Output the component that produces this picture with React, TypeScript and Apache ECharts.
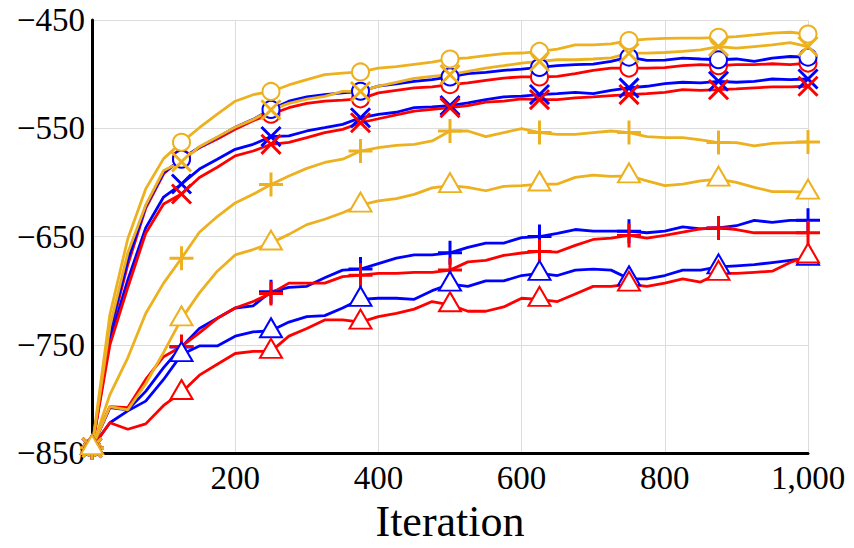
import React, { useEffect, useRef } from "react";
import * as echarts from "echarts";

// Iteration at which each sample was recorded
const iterations = [
  0, 25, 50, 75, 100, 125, 150, 175, 200, 225,
  250, 275, 300, 325, 350, 375, 400, 425, 450, 475,
  500, 525, 550, 575, 600, 625, 650, 675, 700, 725,
  750, 775, 800, 825, 850, 875, 900, 925, 950, 975,
  1000,
];

// Iterations that carry a marker
const markerIterations = [0, 125, 250, 375, 500, 625, 750, 875, 1000];

// Orange runs
const orangeCircle = [
  -845, -722, -652, -606, -578, -563, -549.5, -537, -525, -519,
  -516, -510, -505, -500.5, -499, -498, -494.5, -493, -491, -489,
  -486, -485, -483, -481, -480.5, -479, -477, -473, -473, -472,
  -469, -467.7, -467, -466.8, -466.8, -466, -465.3, -463.8, -462.2, -461.3,
  -463,
];
const orangeCross = [
  -845, -733, -665, -621, -589, -581, -567, -558, -549, -542,
  -533, -527, -523, -520.5, -516, -516, -511, -507.5, -504, -502,
  -500.5, -497.5, -494.4, -492.2, -489.8, -488.3, -486.7, -486.7, -486, -485,
  -480.6, -480.6, -480, -479, -477.5, -474.5, -476, -474.5, -473, -470.8,
  -474.5,
];
const orangePlus = [
  -845, -796, -762, -721, -693, -670, -646, -631.5, -619, -611,
  -602, -594, -587, -581.6, -578.6, -571, -567.8, -565.7, -564.8, -561.7,
  -552.5, -552.5, -557.7, -554, -550.4, -554, -555.6, -555.6, -554, -552.5,
  -554, -557.7, -558.6, -558.6, -560.8, -563.2, -563.2, -566.3, -563.9, -563.2,
  -562.6,
];
const orangeTriangle = [
  -845, -807, -810, -786, -757, -726, -702, -682, -667, -662,
  -656, -648, -639, -634, -628, -621, -617, -615, -611, -605,
  -603, -604.5, -607.7, -603.6, -603, -601.5, -601.5, -595.4, -593.3, -594.4,
  -594, -598.5, -603, -601.5, -598.5, -597, -600, -604.5, -608.5, -608.5,
  -609,
];

// Blue runs
const blueCircle = [
  -845, -737, -672, -622, -591, -578.6, -567.5, -558.6, -549, -541.8,
  -532.6, -525, -521, -519, -517.3, -515.8, -511, -509, -506.6, -505,
  -502.6, -499.6, -498.4, -496.5, -495.3, -493.8, -492.2, -491.3, -490.7, -488.3,
  -484.3, -487.3, -487, -485.2, -486, -486.7, -486, -488.3, -485.2, -483.7,
  -484.3,
];
const blueCross = [
  -845, -745, -690, -642, -613.5, -601.5, -587.7, -578.6, -569.4, -564.8,
  -557.7, -557, -552.5, -549.5, -546.4, -540.3, -537.2, -535.2, -531, -530.2,
  -529, -526.5, -523.5, -521, -520.4, -518.9, -518, -516.8, -518, -515,
  -512.7, -511.2, -508.8, -507.5, -508.1, -506.6, -507.5, -506.6, -504.5, -505,
  -504.5,
];
const bluePlus = [
  -845, -808, -810, -793, -771, -752, -735, -725.5, -716, -714,
  -701, -697, -696, -688, -681, -680, -675, -670, -667, -667,
  -665, -660, -656, -656, -651, -650, -647, -643.5, -645, -645,
  -645, -646.5, -645, -641, -643, -642, -640, -635, -637, -635,
  -635,
];
const blueTriangle = [
  -845, -822, -811, -802, -782, -759, -751, -751, -742, -738,
  -737, -729, -724, -723, -716, -708, -707, -707, -708, -700,
  -694, -696, -691, -691, -686, -684, -686, -681, -680, -681,
  -689, -689, -686, -681, -681, -678, -677, -676, -674, -672,
  -670,
];

// Red runs
const redCircle = [
  -845, -740, -676, -624, -592, -578, -568, -560, -551, -543,
  -537, -531, -527, -525, -524, -522.8, -517.3, -515, -512.7, -511.8,
  -509.7, -508, -505.7, -503.6, -502.6, -502.6, -502, -499.6, -496.5, -494.4,
  -494.4, -494.4, -494, -492.2, -491.3, -492.2, -491.3, -491.3, -490.4, -491.3,
  -489.8,
];
const redCross = [
  -845, -750, -697, -647, -620, -610.7, -595.4, -586, -575.5, -571,
  -564.8, -563, -558.6, -554, -551, -544.9, -541.2, -537.7, -534.2, -532.6,
  -531, -529, -525.9, -525, -522.8, -523.5, -523.5, -521.9, -521, -519.8,
  -518.9, -518, -516.8, -514.3, -515, -514.3, -513.6, -512.7, -511.8, -511.8,
  -511.2,
];
const redPlus = [
  -845, -807, -808, -782, -761, -751.5, -739, -725.5, -716, -710,
  -702.5, -693, -693, -693, -687, -685.7, -684, -684, -683, -683,
  -681, -673.4, -672, -667.4, -665.2, -663.7, -664.3, -658.2, -652.7, -651.4,
  -649, -651.4, -649, -646, -643, -642, -643.5, -646.5, -646.5, -646.5,
  -646.5,
];
const redTriangle = [
  -845, -822, -828, -823, -806, -794, -778, -768, -758, -756,
  -756, -742, -735, -727, -727, -729, -724, -721, -717, -710,
  -713, -719, -719, -715, -707, -708, -710, -703, -696, -696,
  -694, -696, -693, -689, -692, -684, -684, -683, -682, -674,
  -668,
];

const ORANGE = "#EDB120";
const BLUE = "#0000FF";
const RED = "#FF0000";

const FONT = "'Liberation Serif', 'DejaVu Serif', serif";

// Solid cross outline; rotated 45 degrees it gives the "x" mark
const PLUS_PATH =
  "path://M10.5,0H13.5V10.5H24V13.5H13.5V24H10.5V13.5H0V10.5H10.5Z";
const X_PATH =
  "path://M10.7,0H13.3V10.7H24V13.3H13.3V24H10.7V13.3H0V10.7H10.7Z";

type Marker = "circle" | "cross" | "plus" | "triangle";

function markerStyle(marker: Marker) {
  switch (marker) {
    case "circle":
      return { symbol: "emptyCircle", size: 17, rotate: 0, border: 2.7, offset: [0, 0] };
    case "triangle":
      return { symbol: "emptyTriangle", size: [22, 19], rotate: 0, border: 2.7, offset: [0, -3] };
    case "plus":
      return { symbol: PLUS_PATH, size: 24, rotate: 0, border: 0, offset: [0, 0] };
    case "cross":
    default:
      return { symbol: X_PATH, size: 27, rotate: 45, border: 0, offset: [0, 0] };
  }
}

function makeSeries(name: string, values: number[], color: string, marker: Marker) {
  const m = markerStyle(marker);
  const marked = new Set(markerIterations);
  return {
    name,
    type: "line",
    clip: false,
    showAllSymbol: true,
    symbolRotate: m.rotate,
    symbolOffset: m.offset,
    symbolKeepAspect: false,
    lineStyle: { color, width: 2.8 },
    itemStyle: { color, borderColor: color, borderWidth: m.border },
    emphasis: { disabled: true },
    data: iterations.map((it, i) => ({
      value: [it, values[i]],
      symbol: marked.has(it) ? m.symbol : "none",
      symbolSize: m.size,
    })),
  };
}

export default function App() {
  const ref = useRef<HTMLDivElement>(null);

  useEffect(() => {
    if (!ref.current) return;
    const chart = echarts.init(ref.current, null, { renderer: "svg" });

    const series = [
      makeSeries("red-circle", redCircle, RED, "circle"),
      makeSeries("blue-circle", blueCircle, BLUE, "circle"),
      makeSeries("orange-circle", orangeCircle, ORANGE, "circle"),
      makeSeries("blue-cross", blueCross, BLUE, "cross"),
      makeSeries("red-cross", redCross, RED, "cross"),
      makeSeries("orange-cross", orangeCross, ORANGE, "cross"),
      makeSeries("blue-plus", bluePlus, BLUE, "plus"),
      makeSeries("red-plus", redPlus, RED, "plus"),
      makeSeries("orange-plus", orangePlus, ORANGE, "plus"),
      makeSeries("blue-triangle", blueTriangle, BLUE, "triangle"),
      makeSeries("red-triangle", redTriangle, RED, "triangle"),
      makeSeries("orange-triangle", orangeTriangle, ORANGE, "triangle"),
    ];

    chart.setOption({
      animation: false,
      backgroundColor: "#ffffff",
      grid: { left: 92, right: 46, top: 20, bottom: 92, containLabel: false },
      xAxis: {
        type: "value",
        min: 0,
        max: 1000,
        interval: 200,
        name: "Iteration",
        nameLocation: "middle",
        nameGap: 40,
        nameTextStyle: { fontFamily: FONT, fontSize: 44, color: "#000" },
        axisLine: { show: true, onZero: false, lineStyle: { color: "#000", width: 3 } },
        axisTick: { show: false },
        axisLabel: {
          fontFamily: FONT,
          fontSize: 33,
          color: "#000",
          margin: 8,
          formatter: (v: number) => (v === 0 ? "" : v.toLocaleString("en-US")),
        },
        splitLine: { show: true, lineStyle: { color: "#dcdcdc", width: 1 } },
      },
      yAxis: {
        type: "value",
        min: -850,
        max: -450,
        interval: 100,
        axisLine: { show: true, onZero: false, lineStyle: { color: "#000", width: 3 } },
        axisTick: { show: false },
        axisLabel: {
          fontFamily: FONT,
          fontSize: 33,
          color: "#000",
          margin: 7,
          formatter: (v: number) => (v < 0 ? "\u2212" + Math.abs(v) : String(v)),
        },
        splitLine: { show: true, lineStyle: { color: "#dcdcdc", width: 1 } },
      },
      tooltip: { show: false },
      series,
    });

    return () => chart.dispose();
  }, []);

  return <div ref={ref} style={{ width: 854, height: 548, margin: -8 }} />;
}
